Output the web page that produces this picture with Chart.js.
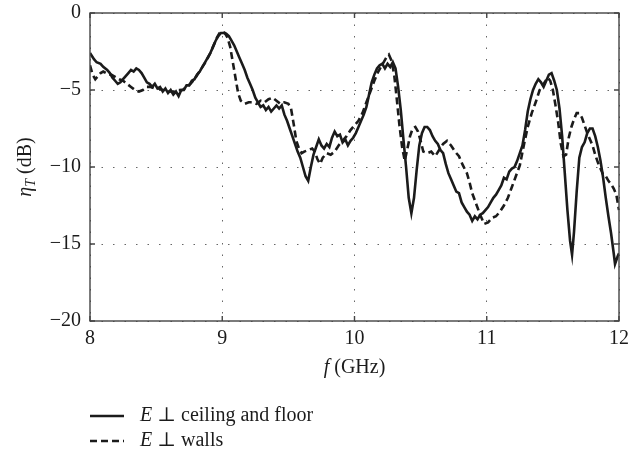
<!DOCTYPE html>
<html>
<head>
<meta charset="utf-8">
<script src="https://cdn.jsdelivr.net/npm/chart.js@4"></script>
<style>
    html, body { margin: 0; padding: 0; background: #fff; }
    canvas { display: block; }
</style>
</head>
<body>
<canvas id="etaChart" width="644" height="456"></canvas>
<script>
// E perpendicular to ceiling and floor
const freqCeiling = [
    8.00, 8.03, 8.05, 8.08, 8.10, 8.13, 8.15, 8.17, 8.19, 8.21, 8.23, 8.25, 8.27, 8.29, 8.31, 8.33,
    8.35, 8.37, 8.39, 8.41, 8.43, 8.45, 8.47, 8.49, 8.51, 8.53, 8.55, 8.57, 8.59, 8.61, 8.63, 8.65,
    8.67, 8.69, 8.71, 8.73, 8.75, 8.77, 8.79, 8.81, 8.83, 8.85, 8.87, 8.89, 8.91, 8.93, 8.95, 8.97,
    8.99, 9.01, 9.03, 9.05, 9.07, 9.09, 9.11, 9.13, 9.15, 9.17, 9.19, 9.21, 9.23, 9.25, 9.27, 9.29,
    9.31, 9.33, 9.35, 9.37, 9.39, 9.41, 9.43, 9.45, 9.47, 9.49, 9.51, 9.53, 9.55, 9.57, 9.59, 9.61,
    9.63, 9.65, 9.67, 9.69, 9.71, 9.73, 9.75, 9.77, 9.79, 9.81, 9.83, 9.85, 9.87, 9.89, 9.91, 9.93,
    9.95, 9.97, 9.99, 10.01, 10.03, 10.05, 10.07, 10.09, 10.11, 10.13, 10.15, 10.17, 10.19, 10.21,
    10.23, 10.25, 10.27, 10.29, 10.31, 10.33, 10.35, 10.37, 10.39, 10.41, 10.43, 10.45, 10.47, 10.49,
    10.51, 10.53, 10.55, 10.57, 10.59, 10.61, 10.63, 10.65, 10.67, 10.69, 10.71, 10.73, 10.75, 10.77,
    10.79, 10.81, 10.83, 10.85, 10.87, 10.89, 10.91, 10.93, 10.95, 10.97, 10.99, 11.01, 11.03, 11.05,
    11.07, 11.09, 11.11, 11.13, 11.15, 11.17, 11.19, 11.21, 11.23, 11.25, 11.27, 11.29, 11.31, 11.33,
    11.35, 11.37, 11.39, 11.41, 11.43, 11.45, 11.47, 11.49, 11.51, 11.53, 11.55, 11.57, 11.59, 11.61,
    11.63, 11.645, 11.66, 11.68, 11.70, 11.72, 11.74, 11.76, 11.78, 11.80, 11.82, 11.84, 11.86, 11.88,
    11.90, 11.92, 11.94, 11.96, 11.97, 11.99, 12.00
];
const etaCeiling = [
    -2.6, -3.0, -3.2, -3.3, -3.5, -3.7, -3.9, -4.2, -4.4, -4.6, -4.5, -4.3, -4.1, -3.9, -3.7, -3.8,
    -3.6, -3.7, -3.9, -4.2, -4.5, -4.6, -4.8, -4.6, -4.9, -4.8, -5.1, -4.9, -5.2, -5.0, -5.3, -5.1,
    -5.4, -5.0, -5.0, -4.7, -4.7, -4.4, -4.3, -4.0, -3.8, -3.5, -3.2, -2.9, -2.6, -2.2, -1.8, -1.5,
    -1.3, -1.3, -1.35, -1.5, -1.8, -2.1, -2.5, -2.9, -3.3, -3.7, -4.2, -4.6, -5.0, -5.5, -5.8, -6.1,
    -6.0, -6.3, -6.1, -6.4, -6.2, -6.0, -6.2, -6.0, -6.6, -7.0, -7.5, -8.0, -8.5, -9.0, -9.4, -10.0,
    -10.6, -10.9, -10.0, -9.2, -8.7, -8.2, -8.6, -8.8, -8.5, -8.7, -8.1, -7.7, -8.0, -7.9, -8.4, -8.2,
    -8.6, -8.3, -8.1, -7.8, -7.4, -7.0, -6.6, -6.1, -5.3, -4.5, -4.0, -3.6, -3.4, -3.3,
    -3.6, -3.3, -3.5, -3.2, -3.6, -4.8, -6.3, -8.2, -10.0, -12.0, -13.0, -12.0, -10.2, -8.6,
    -7.8, -7.4, -7.4, -7.6, -8.0, -8.3, -8.5, -8.9, -9.1, -9.8, -10.4, -10.8, -11.2, -11.6,
    -11.7, -12.3, -12.6, -12.9, -13.1, -13.5, -13.2, -13.4, -13.1, -13.0, -12.8, -12.6, -12.3, -12.0,
    -11.8, -11.5, -11.2, -10.7, -10.8, -10.3, -10.1, -10.0, -9.6, -9.1, -8.6, -7.6, -6.4, -5.6,
    -5.0, -4.6, -4.3, -4.5, -4.8, -4.4, -4.0, -3.9, -4.4, -5.0, -6.2, -8.0, -10.4, -12.8,
    -14.8, -15.7, -14.2, -11.6, -9.4, -8.7, -8.4, -7.8, -7.5, -7.5, -8.0, -8.7, -9.6, -10.7,
    -12.0, -13.2, -14.3, -15.6, -16.3, -15.8, -15.6
];

// E perpendicular to walls
const freqWalls = [
    8.00, 8.02, 8.04, 8.06, 8.08, 8.10, 8.12, 8.14, 8.16, 8.18, 8.20, 8.22, 8.25, 8.28, 8.31, 8.34,
    8.37, 8.40, 8.43, 8.46, 8.49, 8.52, 8.55, 8.58, 8.61, 8.64, 8.67, 8.70, 8.73, 8.76, 8.79, 8.82,
    8.85, 8.88, 8.91, 8.94, 8.96, 8.98, 9.00, 9.02, 9.04, 9.06, 9.08, 9.10, 9.12, 9.14, 9.17, 9.20,
    9.23, 9.26, 9.29, 9.32, 9.35, 9.38, 9.41, 9.44, 9.47, 9.50, 9.52, 9.54, 9.56, 9.58, 9.60, 9.62,
    9.65, 9.68, 9.70, 9.72, 9.74, 9.76, 9.79, 9.82, 9.85, 9.88, 9.91, 9.94, 9.97, 10.00, 10.03, 10.06,
    10.09, 10.12, 10.15, 10.18, 10.20, 10.22, 10.24, 10.26, 10.28, 10.30, 10.32, 10.34, 10.36, 10.38,
    10.40, 10.42, 10.44, 10.46, 10.48, 10.50, 10.52, 10.55, 10.58, 10.61, 10.64, 10.67, 10.70, 10.73,
    10.76, 10.79, 10.82, 10.85, 10.87, 10.89, 10.92, 10.95, 10.98, 11.01, 11.04, 11.07, 11.10, 11.13,
    11.16, 11.19, 11.22, 11.25, 11.28, 11.31, 11.34, 11.37, 11.40, 11.43, 11.46, 11.48, 11.50, 11.52,
    11.54, 11.56, 11.58, 11.60, 11.62, 11.64, 11.66, 11.68, 11.70, 11.72, 11.74, 11.76, 11.78, 11.80,
    11.82, 11.84, 11.86, 11.88, 11.90, 11.92, 11.94, 11.96, 11.98, 12.00
];
const etaWalls = [
    -3.4, -4.0, -4.3, -4.1, -3.9, -3.8, -3.9, -4.0, -4.0, -4.1, -4.2, -4.3, -4.4, -4.6, -4.8, -5.0,
    -5.1, -5.0, -4.8, -4.8, -4.9, -4.9, -5.0, -5.1, -5.1, -5.1, -5.0, -5.0, -4.8, -4.6, -4.3, -3.9,
    -3.5, -3.1, -2.6, -2.0, -1.6, -1.3, -1.2, -1.3, -1.6, -2.2, -3.2, -4.2, -5.2, -5.7, -5.9, -5.8,
    -5.8, -5.9, -5.7, -5.8, -5.6, -5.5, -5.7, -5.9, -5.8, -5.9, -6.2, -7.2, -8.3, -8.8, -9.1, -9.0,
    -8.9, -8.8, -9.0, -9.5, -9.8, -9.4, -9.1, -9.2, -9.0, -8.6, -8.3, -8.0, -7.6, -7.3, -7.0, -6.5,
    -5.8, -5.1, -4.4, -3.8, -3.5, -3.2, -2.9, -2.7, -3.1, -4.0, -5.6, -7.3, -8.7, -9.6,
    -8.8, -8.0, -7.5, -7.4, -7.7, -8.3, -9.0, -9.1, -9.0, -9.3, -8.9, -8.5, -8.3, -8.6,
    -9.0, -9.3, -9.9, -10.4, -11.0, -11.7, -12.4, -13.1, -13.7, -13.6, -13.3, -13.2, -12.9, -12.5,
    -12.0, -11.3, -10.6, -9.9, -8.6, -7.4, -6.5, -5.8, -5.0, -4.6, -4.2, -4.4, -5.0, -6.0,
    -7.1, -8.5, -9.3, -9.2, -8.1, -7.4, -6.9, -6.5, -6.5, -6.8, -7.3, -7.8, -8.2, -8.6,
    -9.2, -9.7, -10.1, -10.5, -10.6, -10.9, -11.1, -11.4, -11.8, -12.8
];

const freqTicks = [8, 9, 10, 11, 12];
const etaTicks = [0, -5, -10, -15, -20];

const seriesNames = ['ceiling and floor', 'walls'];

const serif = '"Liberation Serif", "DejaVu Serif", serif';
const ink = '#1b1b1b';

function toPoints(xs, ys) {
    return xs.map((x, i) => ({ x: x, y: ys[i] }));
}

function minusLabel(v) {
    return v < 0 ? '\u2212' + Math.abs(v) : String(v);
}

// Draw runs of text with different fonts one after another
function drawRuns(ctx, runs, x, y) {
    runs.forEach(r => {
        ctx.font = r.font;
        ctx.fillText(r.text, x, y + (r.dy || 0));
        x += ctx.measureText(r.text).width;
    });
    return x;
}

function runsWidth(ctx, runs) {
    let w = 0;
    runs.forEach(r => {
        ctx.font = r.font;
        w += ctx.measureText(r.text).width;
    });
    return w;
}

// Frame, inward ticks, axis titles and legend
const framePlugin = {
    id: 'frameAndLabels',
    afterDraw(chart) {
        const ctx = chart.ctx;
        const area = chart.chartArea;
        const xs = chart.scales.x;
        const ys = chart.scales.y;

        ctx.save();
        ctx.strokeStyle = '#444';
        ctx.lineWidth = 1.4;
        ctx.setLineDash([]);
        ctx.strokeRect(area.left, area.top, area.right - area.left, area.bottom - area.top);

        const tick = 5;
        ctx.beginPath();
        freqTicks.forEach(f => {
            const px = xs.getPixelForValue(f);
            ctx.moveTo(px, area.bottom);
            ctx.lineTo(px, area.bottom - tick);
            ctx.moveTo(px, area.top);
            ctx.lineTo(px, area.top + tick);
        });
        etaTicks.forEach(v => {
            const py = ys.getPixelForValue(v);
            ctx.moveTo(area.left, py);
            ctx.lineTo(area.left + tick, py);
            ctx.moveTo(area.right, py);
            ctx.lineTo(area.right - tick, py);
        });
        ctx.stroke();

        ctx.fillStyle = ink;
        ctx.textBaseline = 'middle';
        ctx.textAlign = 'left';

        // x title
        const xRuns = [
            { text: 'f', font: 'italic 20px ' + serif },
            { text: ' (GHz)', font: '20px ' + serif }
        ];
        const cx = (area.left + area.right) / 2;
        drawRuns(ctx, xRuns, cx - runsWidth(ctx, xRuns) / 2, 368);

        // y title, rotated
        const yRuns = [
            { text: '\u03B7', font: 'italic 20px ' + serif },
            { text: 'T', font: 'italic 14px ' + serif, dy: 5 },
            { text: ' (dB)', font: '20px ' + serif }
        ];
        ctx.save();
        ctx.translate(26, (area.top + area.bottom) / 2);
        ctx.rotate(-Math.PI / 2);
        drawRuns(ctx, yRuns, -runsWidth(ctx, yRuns) / 2, 0);
        ctx.restore();

        // legend
        const rows = [416, 441];
        chart.data.datasets.forEach((ds, i) => {
            const y = rows[i];
            ctx.strokeStyle = ds.borderColor;
            ctx.lineWidth = ds.borderWidth;
            ctx.setLineDash(ds.borderDash || []);
            ctx.beginPath();
            ctx.moveTo(90, y);
            ctx.lineTo(124, y);
            ctx.stroke();
            drawRuns(ctx, [
                { text: 'E', font: 'italic 20px ' + serif },
                { text: ' \u22A5 ' + seriesNames[i], font: '20px ' + serif }
            ], 140, y);
        });
        ctx.restore();
    }
};

const gridDots = {
    color: '#666',
    lineWidth: 1,
    drawTicks: false
};

new Chart(document.getElementById('etaChart'), {
    type: 'line',
    data: {
        datasets: [
            {
                label: seriesNames[0],
                data: toPoints(freqCeiling, etaCeiling),
                borderColor: ink,
                borderWidth: 2.6,
                pointRadius: 0,
                tension: 0
            },
            {
                label: seriesNames[1],
                data: toPoints(freqWalls, etaWalls),
                borderColor: ink,
                borderWidth: 2.6,
                borderDash: [7, 4],
                pointRadius: 0,
                tension: 0
            }
        ]
    },
    options: {
        responsive: false,
        animation: false,
        events: [],
        layout: { padding: { left: 0, top: 13, right: 25, bottom: 0 } },
        plugins: {
            legend: { display: false },
            tooltip: { enabled: false }
        },
        scales: {
            x: {
                type: 'linear',
                min: 8,
                max: 12,
                afterFit: s => { s.height = 135; s.paddingLeft = 0; s.paddingRight = 0; },
                afterBuildTicks: s => { s.ticks = freqTicks.map(v => ({ value: v })); },
                ticks: {
                    color: ink,
                    padding: 6,
                    font: { family: serif, size: 20 },
                    callback: v => minusLabel(v)
                },
                grid: gridDots,
                border: { display: false, dash: [1.5, 10] }
            },
            y: {
                type: 'linear',
                min: -20,
                max: 0,
                afterFit: s => { s.width = 90; s.paddingTop = 0; s.paddingBottom = 0; },
                afterBuildTicks: s => { s.ticks = etaTicks.map(v => ({ value: v })); },
                ticks: {
                    color: ink,
                    padding: 9,
                    font: { family: serif, size: 20 },
                    callback: v => minusLabel(v)
                },
                grid: gridDots,
                border: { display: false, dash: [1.5, 10] }
            }
        }
    },
    plugins: [framePlugin]
});
</script>
</body>
</html>
